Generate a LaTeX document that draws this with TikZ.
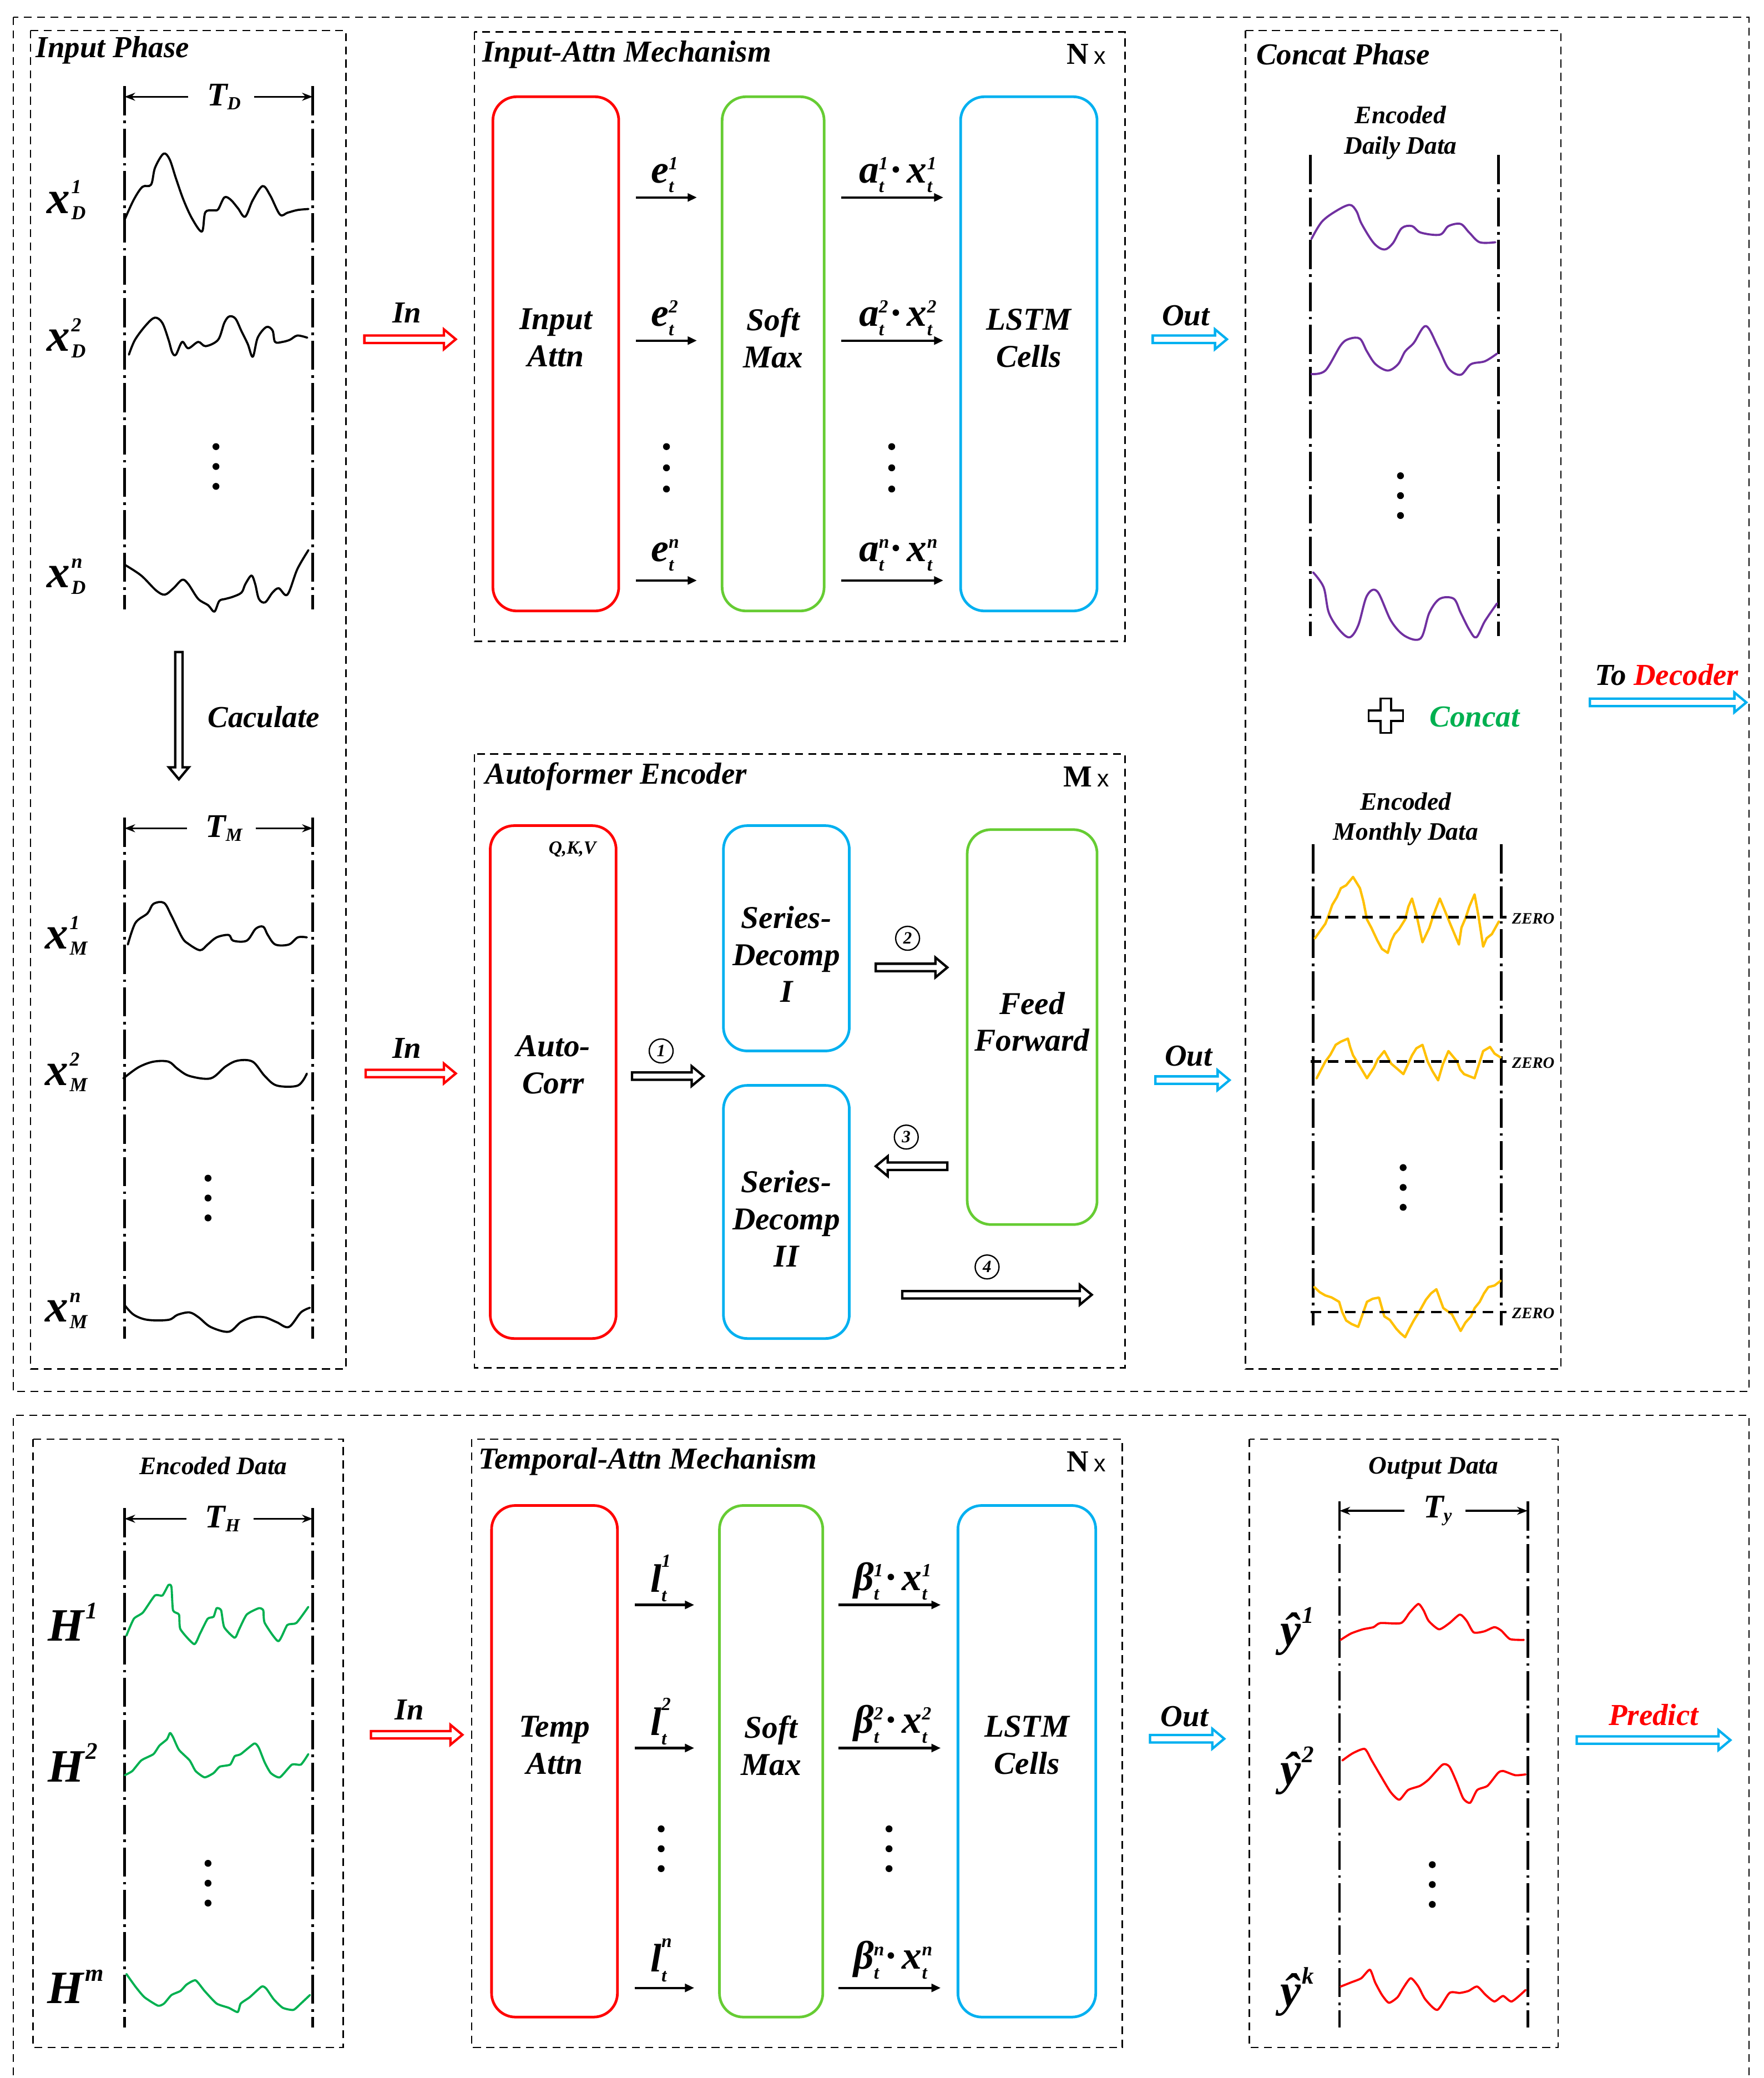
\documentclass[tikz,border=0pt]{standalone}
\usepackage{fontspec}
\setmainfont{Liberation Serif}
\setsansfont{Liberation Sans}
\usetikzlibrary{arrows.meta,positioning,calc}

\definecolor{attnred}{RGB}{255,0,0}
\definecolor{softgreen}{RGB}{102,204,51}
\definecolor{cellblue}{RGB}{0,176,240}
\definecolor{dailypurple}{RGB}{112,48,160}
\definecolor{monthyellow}{RGB}{255,192,0}
\definecolor{hgreen}{RGB}{0,176,80}

\newcommand{\fsz}[2]{\fontsize{#1}{#2}\selectfont}
\newcommand{\bi}{\bfseries\itshape}
\newcommand{\scr}{\fsz{14}{14}}
% x with stacked sup / sub
\newcommand{\serlab}[3]{#1\kern1pt\rlap{\raisebox{.42em}{\fsz{15}{15}#2}}\raisebox{-.14em}{\fsz{15}{15}#3}}
\newcommand{\wlab}[4][.34em]{#2\rlap{\raisebox{#1}{\scr #3}}\raisebox{-.24em}{\scr #4}}
\newcommand{\suplab}[2]{#1\kern1pt\raisebox{.48em}{\fsz{18}{18}#2}}
\newcommand{\winlab}[2]{#1\raisebox{-.12em}{\scr #2}}
% outlined block arrow from #2 to #3
\newcommand{\blockarr}[3]{%
  \draw[blockline=#1] let \p1=(#2), \p2=(#3), \n1={veclen(\x2-\x1,\y2-\y1)},
    \n2={(\x2-\x1)/\n1}, \n3={(\y2-\y1)/\n1} in
    ({\x1-\n3*2.8pt},{\y1+\n2*2.8pt}) -- ({\x2-\n2*9pt-\n3*2.8pt},{\y2-\n3*9pt+\n2*2.8pt})
    -- ({\x2-\n2*9pt-\n3*7.5pt},{\y2-\n3*9pt+\n2*7.5pt}) -- (\p2)
    -- ({\x2-\n2*9pt+\n3*7.5pt},{\y2-\n3*9pt-\n2*7.5pt}) -- ({\x2-\n2*9pt+\n3*2.8pt},{\y2-\n3*9pt-\n2*2.8pt})
    -- ({\x1+\n3*2.8pt},{\y1-\n2*2.8pt}) -- cycle;}

\tikzset{
  phasebox/.style={draw, line width=1.1pt, dash pattern=on 6pt off 4pt},
  ttl/.style={anchor=west, inner sep=0pt, font=\fsz{23}{27}\bi},
  subttl/.style={align=center, inner sep=0pt, font=\fsz{19}{23}\bi},
  rbox/.style={draw=#1, line width=2pt, rounded corners=18pt, inner sep=0pt},
  boxtxt/.style={align=center, inner sep=0pt, font=\fsz{24}{28}\bi},
  window/.style={line width=2pt, dash pattern=on 22pt off 4pt on 2pt off 4pt},
  dimarr/.style={line width=1.4pt, -{Stealth[length=8pt,width=6pt]}},
  dimlab/.style={inner sep=0pt, font=\fsz{25}{25}\bi},
  sig/.style={line width=1.6pt, line join=round, line cap=round},
  flow/.style={line width=1.8pt, -{Triangle[length=7pt,width=6pt]}},
  blockline/.style={draw=#1, line width=1.8pt, line join=miter, fill=white},
  varlab/.style={inner sep=0pt, font=\fsz{35}{35}\bi},
  wtlab/.style={inner sep=0pt, font=\fsz{30}{30}\bi},
  flowlab/.style={inner sep=0pt, font=\fsz{23}{23}\bi},
  stepnum/.style={circle, draw, line width=1pt, inner sep=0pt, minimum size=18pt, font=\fsz{13}{13}\bi},
  zero/.style={line width=2pt, dash pattern=on 8pt off 5pt},
  zerolab/.style={anchor=west, inner sep=0pt, font=\fsz{12}{12}\bi},
  reps/.style={inner sep=0pt, font=\fsz{23}{23}\bfseries},
}

\begin{document}
\begin{tikzpicture}[x=1pt, y=-1pt]
\useasboundingbox (0,0) rectangle (1331,1568);

% outer frames
\draw[phasebox] (10,13) rectangle (1320,1050);
\draw[phasebox] (10,1566) -- (10,1068) -- (1320,1068) -- (1320,1566);

%%%%% input phase
\draw[phasebox] (23,23) rectangle (261,1033);
\node[ttl] at (27,38) {Input Phase};

\coordinate (dl) at (94,65);
\coordinate (dr) at (236,65);
\draw[window] (dl) -- (94,460);
\draw[window] (dr) -- (236,460);
\node[dimlab] (td) at (169,73) {\winlab{T}{D}};
\draw[dimarr] ([xshift=-14pt]td.west) -- (td.west -| dl);
\draw[dimarr] ([xshift=10pt]td.east) -- (td.east -| dr);

\draw[sig] plot[smooth, tension=.55] coordinates {(94.4,165) (101,150.6) (107.5,141) (114,139.4) (117,126.6) (123.4,116) (128,120.2) (132.8,134.6) (138.4,150.6) (145,165) (152.4,174.7) (154.9,160.3) (160.8,158.7) (164.6,158) (169.3,149) (174,150.6) (179.5,157) (185,163.5) (190.8,151) (198.2,140.4) (203.9,147.4) (211.3,161.9) (217,160.5) (224.4,158.5) (232.8,157.7)};
\draw[sig] plot[smooth, tension=.55] coordinates {(97.3,267.6) (101.9,256.4) (110.3,245.2) (116.9,239.7) (122.5,243.6) (127.2,256.4) (130,266) (132.8,267.6) (137.5,258) (142.1,262.8) (149.6,258) (155.2,261.2) (164.6,256.4) (169.3,243.6) (173,238.8) (177.7,240.4) (182.3,250) (187,259.6) (190.8,269.2) (194.5,254.8) (201,246.8) (205.7,249.4) (207.6,258) (213.2,258) (218.8,256.4) (224.4,253.2) (231.9,254.8)};
\draw[sig] plot[smooth, tension=.55] coordinates {(94.4,426.3) (106.6,434.3) (117.8,445.5) (124.4,448.7) (130.9,443.9) (137.5,437.5) (142.1,440.7) (149.6,451.9) (157.1,456.7) (161.8,461.5) (165.5,453.5) (170.2,451.9) (175.8,450.3) (182.3,447.1) (185.2,440.7) (189.8,434.3) (192.6,440.7) (195.4,451.9) (200.1,454.5) (205.7,447.1) (210.4,443.9) (216.9,448.7) (224.4,429.5) (232.8,415.1)};

\node[varlab] (xd1) at (50,151) {\serlab{x}{1}{D}};
\node[varlab] (xd2) at (50,255) {\serlab{x}{2}{D}};
\node[varlab] (xdn) at (50,435) {\serlab{x}{n}{D}};
\foreach \k in {0,1,2} \fill (163,337+15*\k) circle (2.6pt);

\coordinate (calctop) at (135,492);
\coordinate (calcbot) at (135,588);
\blockarr{black}{calctop}{calcbot}
\node[flowlab] at (199,541) {Caculate};

\coordinate (ml) at (94,617);
\coordinate (mr) at (236,617);
\draw[window] (ml) -- (94,1010);
\draw[window] (mr) -- (236,1010);
\node[dimlab] (tm) at (169,625) {\winlab{T}{M}};
\draw[dimarr] ([xshift=-14pt]tm.west) -- (tm.west -| ml);
\draw[dimarr] ([xshift=10pt]tm.east) -- (tm.east -| mr);

\draw[sig] plot[smooth, tension=.55] coordinates {(96.5,712.7) (102.2,696.4) (111.3,689.2) (115.8,682) (123.8,681.3) (129.4,691) (137.4,707.3) (141.9,712) (151,717) (156.7,712.7) (163.5,707.3) (172.6,705.5) (176,709.8) (186.2,709.8) (193,700.8) (198.7,699.3) (202.1,705.5) (207.8,712.7) (218,712.7) (224.8,707.3) (231.6,707.3)};
\draw[sig] plot[smooth, tension=.55] coordinates {(93.1,813.7) (104.4,805.4) (115.8,801.1) (127.2,801.1) (134,806.5) (143,811.9) (159,813.7) (170.3,804.7) (179.4,800.3) (190.7,801.1) (199.8,811.9) (208.9,819.1) (224.8,819.1) (231.6,810.1)};
\draw[sig] plot[smooth, tension=.55] coordinates {(94.2,985) (101,992.1) (111.3,995.9) (127.2,995.9) (134,992.1) (143,990.3) (149.9,994) (159,1001.3) (172.6,1004.9) (181.7,997.7) (190.7,994) (199.8,994) (208.9,997.7) (218,1001.3) (227.1,990.3) (233.9,986.8)};

\node[varlab] (xm1) at (50,706) {\serlab{x}{1}{M}};
\node[varlab] (xm2) at (50,809) {\serlab{x}{2}{M}};
\node[varlab] (xmn) at (50,989) {\serlab{x}{n}{M}};
\foreach \k in {0,1,2} \fill (157,889+15*\k) circle (2.6pt);

% In arrows
\coordinate (in1a) at (275,256);
\coordinate (in1b) at (344,256);
\blockarr{attnred}{in1a}{in1b}
\node[flowlab] at (307,236) {In};
\coordinate (in2a) at (276,810);
\coordinate (in2b) at (344,810);
\blockarr{attnred}{in2a}{in2b}
\node[flowlab] at (307,791) {In};

%%%%% input attention
\draw[phasebox] (358,24) rectangle (849,484);
\node[ttl] at (364,41) {Input-Attn Mechanism};
\node[reps] at (820,41) {N\,{\sffamily\mdseries\fsz{18}{18}x}};
\node[rbox=attnred, minimum width=95, minimum height=388, label={[boxtxt,yshift=12pt]center:{Input\\Attn}}] (ia) at (419.5,267) {};
\node[rbox=softgreen, minimum width=77, minimum height=388, label={[boxtxt,yshift=12pt]center:{Soft\\Max}}] (sm1) at (583.5,267) {};
\node[rbox=cellblue, minimum width=103, minimum height=388, label={[boxtxt,yshift=12pt]center:{LSTM\\Cells}}] (ls1) at (776.5,267) {};
\foreach \yy in {149,257,438} {
  \draw[flow] ([xshift=12pt]ia.east |- 0,\yy) -- ([xshift=-18pt]sm1.west |- 0,\yy);
  \draw[flow] ([xshift=12pt]sm1.east |- 0,\yy) -- ([xshift=-12pt]ls1.west |- 0,\yy);
}
\node[wtlab] at (500,132) {\wlab{e}{1}{t}};
\node[wtlab] at (500,240) {\wlab{e}{2}{t}};
\node[wtlab] at (500,419) {\wlab{e}{n}{t}};
\node[wtlab] at (676,132) {\wlab{a}{1}{t}\,·\,\wlab{x}{1}{t}};
\node[wtlab] at (676,240) {\wlab{a}{2}{t}\,·\,\wlab{x}{2}{t}};
\node[wtlab] at (676,419) {\wlab{a}{n}{t}\,·\,\wlab{x}{n}{t}};
\foreach \k in {0,1,2} {
  \fill (503,337+16*\k) circle (2.6pt);
  \fill (673,337+16*\k) circle (2.6pt);
}

%%%%% autoformer encoder
\draw[phasebox] (358,569) rectangle (849,1032);
\node[ttl] at (366,586) {Autoformer Encoder};
\node[reps] at (820,586) {M\,{\sffamily\mdseries\fsz{18}{18}x}};
\node[rbox=attnred, minimum width=95, minimum height=387, label={[boxtxt,yshift=13pt]center:{Auto-\\Corr}}] (ac) at (417.5,816.5) {};
\node[inner sep=0pt, font=\fsz{14}{14}\bi] at (432,641) {Q,K,V};
\node[rbox=cellblue, minimum width=95, minimum height=170, label={[boxtxt,yshift=-12pt]center:{Series-\\Decomp\\I}}] (sd1) at (593.5,708) {};
\node[rbox=cellblue, minimum width=95, minimum height=191, label={[boxtxt,yshift=-5pt]center:{Series-\\Decomp\\II}}] (sd2) at (593.5,914.5) {};
\node[rbox=softgreen, minimum width=98, minimum height=298, label={[boxtxt,yshift=4pt]center:{Feed\\Forward}}] (ff) at (779,775) {};

\blockarr{black}{[xshift=11pt]ac.east |- 0,812}{[xshift=-14pt]sd1.west |- 0,812}
\node[stepnum] at (499,793) {1};
\blockarr{black}{[xshift=19pt]sd1.east |- 0,730}{[xshift=-14pt]ff.west |- 0,730}
\node[stepnum] at (685,708) {2};
\blockarr{black}{[xshift=-14pt]ff.west |- 0,880}{[xshift=19pt]sd2.east |- 0,880}
\node[stepnum] at (684,858) {3};
\blockarr{black}{[xshift=39pt]sd2.east |- 0,977}{[xshift=-5pt]ff.east |- 0,977}
\node[stepnum] at (745,956) {4};

% Out arrows
\coordinate (out1a) at (870,256);
\coordinate (out1b) at (926,256);
\blockarr{cellblue}{out1a}{out1b}
\node[flowlab] at (895,238) {Out};
\coordinate (out2a) at (872,815);
\coordinate (out2b) at (928,815);
\blockarr{cellblue}{out2a}{out2b}
\node[flowlab] at (897,797) {Out};

%%%%% concat phase
\draw[phasebox] (940,23) rectangle (1178,1033);
\node[ttl] at (948,41) {Concat Phase};
\node[subttl] at (1057,100) {Encoded\\Daily Data};
\draw[window] (989,117) -- (989,480);
\draw[window] (1131,117) -- (1131,480);
\begin{scope}[dailypurple]
\draw[sig] plot[smooth, tension=.55] coordinates {(989.8,180.3) (997.6,167.4) (1008.1,159.4) (1018.6,154.6) (1023.8,159.4) (1027.7,169) (1036.9,183.5) (1044.8,188.3) (1051.3,183.5) (1057.9,172.2) (1065.7,170.6) (1072.3,175.5) (1086.7,177.1) (1093.2,170.6) (1102.4,169) (1108.9,175.5) (1116.8,182.8) (1128.6,182.8)};
\draw[sig] plot[smooth, tension=.55] coordinates {(989.8,282.2) (1000.3,279.6) (1012,260.4) (1018.6,255.6) (1026.4,255.6) (1031.7,265.2) (1038.2,274.8) (1047.4,279.6) (1055.2,274.8) (1060.5,265.2) (1067,258.8) (1076.2,246) (1085.4,262) (1093.2,278) (1102.4,282.8) (1110.2,274.8) (1120.7,272.6) (1129.9,266.8)};
\draw[sig] plot[smooth, tension=.55] coordinates {(991.1,431.9) (999,443.1) (1002.9,462.3) (1010.7,475.1) (1018.6,480.9) (1025.1,471.9) (1031.7,449.5) (1039.5,446.3) (1050,468.7) (1060.5,480) (1072.3,481.6) (1078.8,462.3) (1086.7,451.8) (1097.2,451.8) (1102.4,462.3) (1108.9,475.1) (1114.2,480.9) (1120.7,468.7) (1129.9,455.3)};
\end{scope}
\foreach \k in {0,1,2} \fill (1057,359+15*\k) circle (2.6pt);

\draw[line width=1.5pt, shift={(1046,540)}] (-4,-13) -- (4,-13) -- (4,-4) -- (13,-4) -- (13,4) -- (4,4) -- (4,13) -- (-4,13) -- (-4,4) -- (-13,4) -- (-13,-4) -- (-4,-4) -- cycle;
\node[flowlab, text=hgreen] at (1113,541) {Concat};

\node[subttl] at (1061,618) {Encoded\\Monthly Data};
\draw[window] (991,637) -- (991,1000);
\draw[window] (1133,637) -- (1133,1000);
\begin{scope}[monthyellow]
\draw[sig, line width=1.8pt] plot coordinates {(992.4,708) (996,703) (1000.3,697) (1003,690) (1005.5,682.8) (1009,677) (1012,670.2) (1016,668) (1021.2,661.7) (1026.4,670.2) (1029,680) (1031.7,693.8) (1035,700) (1039.5,709.6) (1043,716) (1047.4,719) (1050,710) (1052.6,704.8) (1056,701) (1060.5,693.8) (1063,684) (1065.7,678) (1069,690) (1073.6,711) (1078.8,700.1) (1082,690) (1086.7,678) (1090,686) (1094.5,697) (1101.1,712.7) (1103,700) (1106.3,692.2) (1109,684) (1112.9,674.9) (1116,692) (1119.4,714.3) (1122,708) (1126,704.8) (1131.2,695.4)};
\draw[sig, line width=1.8pt] plot coordinates {(993.7,813.6) (1000.3,801) (1004,796) (1008.1,788.4) (1012,786) (1017.3,783.7) (1019,790) (1021.2,796.3) (1026,804) (1031.7,813.6) (1036.9,805.7) (1040,799) (1044.8,793.1) (1050,802.6) (1054,806) (1059.2,810.5) (1065.7,796.3) (1069,791) (1073.6,788.4) (1077.5,801) (1081,808) (1085.4,815.2) (1089,803) (1093.2,793.1) (1099.8,801) (1102,807) (1105,810.5) (1112.9,813.6) (1119.4,793.1) (1124.6,790) (1128,795) (1132.5,797.9)};
\draw[sig, line width=1.8pt] plot coordinates {(992,971.2) (996,975) (1000.3,977.5) (1005,979) (1010.7,982.3) (1013,990) (1016,996.4) (1020,999) (1025.1,1001.2) (1031.7,982.3) (1036,980) (1040.8,979.1) (1044.8,993.3) (1049,996) (1053.9,1002.7) (1057,1006) (1060.5,1009) (1064,1002) (1067,996.4) (1071,990) (1076.2,980.7) (1080,976) (1084.1,972.8) (1089.3,987) (1095.8,991.7) (1102.4,1004.3) (1106,998) (1110.2,993.3) (1113,987) (1116.8,982.3) (1120,976) (1123.3,971.2) (1128,970) (1132.5,966.5)};
\end{scope}
\foreach \zy in {692,801,990} {
  \draw[zero] (989,\zy) -- (1137,\zy);
  \node[zerolab] at (1141,\zy+1) {ZERO};
}
\foreach \k in {0,1,2} \fill (1059,881+15*\k) circle (2.6pt);

% to decoder
\coordinate (deca) at (1200,530);
\coordinate (decb) at (1318,530);
\blockarr{cellblue}{deca}{decb}
\node[flowlab] at (1258,509) {To \textcolor{attnred}{Decoder}};

%%%%% encoded data
\draw[phasebox] (25,1086) rectangle (259,1545);
\node[subttl] at (161,1106) {Encoded Data};
\coordinate (hl) at (94,1138);
\coordinate (hr) at (236,1138);
\draw[window] (hl) -- (94,1530);
\draw[window] (hr) -- (236,1530);
\node[dimlab] (th) at (168,1146) {\winlab{T}{H}};
\draw[dimarr] ([xshift=-14pt]th.west) -- (th.west -| hl);
\draw[dimarr] ([xshift=10pt]th.east) -- (th.east -| hr);
\begin{scope}[hgreen]
\draw[sig] plot[smooth, tension=.35] coordinates {(95.4,1234.2) (101,1221.5) (107.9,1216.7) (116.9,1203.9) (122.6,1203.9) (127.2,1195.9) (129.4,1197.5) (130.6,1215.1) (135.1,1218.3) (136.2,1229.4) (146.5,1240.6) (151,1232.6) (156.7,1221.5) (161.2,1219.9) (163.5,1213.5) (166.9,1215.1) (169.2,1227.8) (177.1,1235.8) (180.5,1229.4) (186.2,1218.3) (195.3,1213.5) (198.7,1215.1) (199.8,1224.6) (210,1238.4) (216.8,1226.2) (223.7,1224.6) (232.7,1212.5)};
\draw[sig] plot[smooth, tension=.35] coordinates {(94.2,1339.5) (99.9,1336.3) (106.7,1328.3) (115.8,1323.6) (120.3,1317.2) (126,1312.4) (128.3,1307.6) (130.6,1310.8) (135.1,1320.4) (143.1,1328.3) (147.6,1336.3) (154.4,1341.1) (161.2,1337.9) (165.8,1333.1) (173.7,1331.5) (177.1,1325.2) (181.7,1323.6) (191.9,1315.6) (195.3,1318.8) (199.8,1329.9) (204.4,1337.9) (211.2,1341.1) (220.3,1331.5) (227.1,1331.5) (232.7,1323.6)};
\draw[sig] plot[smooth, tension=.35] coordinates {(95.4,1489.5) (102.2,1499) (109,1507) (119.2,1513.4) (123.8,1511.8) (129.4,1505.4) (136.2,1502.3) (140.8,1497.5) (147.6,1494.3) (154.4,1502.3) (163.5,1511.8) (172.6,1515) (179.4,1518.2) (181.7,1511.8) (188.5,1507) (197.5,1499) (201,1500.6) (206.6,1508.6) (213.4,1515) (221.4,1516.6) (227.1,1511.8) (233.9,1505.4)};
\end{scope}
\node[varlab] (h1) at (55,1224) {\suplab{H}{1}};
\node[varlab] (h2) at (55,1330) {\suplab{H}{2}};
\node[varlab] (hm) at (57,1499) {\suplab{H}{m}};
\foreach \k in {0,1,2} \fill (157,1406+15*\k) circle (2.6pt);

\coordinate (in3a) at (280,1309);
\coordinate (in3b) at (349,1309);
\blockarr{attnred}{in3a}{in3b}
\node[flowlab] at (309,1290) {In};

%%%%% temporal attention
\draw[phasebox] (356,1086) rectangle (847,1545);
\node[ttl] at (361,1103) {Temporal-Attn Mechanism};
\node[reps] at (820,1103) {N\,{\sffamily\mdseries\fsz{18}{18}x}};
\node[rbox=attnred, minimum width=95, minimum height=386, label={[boxtxt,yshift=12pt]center:{Temp\\Attn}}] (ta) at (418.5,1329) {};
\node[rbox=softgreen, minimum width=78, minimum height=386, label={[boxtxt,yshift=12pt]center:{Soft\\Max}}] (sm2) at (582,1329) {};
\node[rbox=cellblue, minimum width=104, minimum height=386, label={[boxtxt,yshift=12pt]center:{LSTM\\Cells}}] (ls2) at (775,1329) {};
\foreach \yy in {1211,1319,1500} {
  \draw[flow] ([xshift=12pt]ta.east |- 0,\yy) -- ([xshift=-18pt]sm2.west |- 0,\yy);
  \draw[flow] ([xshift=11pt]sm2.east |- 0,\yy) -- ([xshift=-12pt]ls2.west |- 0,\yy);
}
\node[wtlab] at (497,1191) {\wlab[.62em]{l}{1}{t}};
\node[wtlab] at (497,1299) {\wlab[.62em]{l}{2}{t}};
\node[wtlab] at (497,1479) {\wlab[.62em]{l}{n}{t}};
\node[wtlab] at (672,1193) {\wlab{β}{1}{t}\,·\,\wlab{x}{1}{t}};
\node[wtlab] at (672,1301) {\wlab{β}{2}{t}\,·\,\wlab{x}{2}{t}};
\node[wtlab] at (672,1479) {\wlab{β}{n}{t}\,·\,\wlab{x}{n}{t}};
\foreach \k in {0,1,2} {
  \fill (499,1380+15*\k) circle (2.6pt);
  \fill (671,1380+15*\k) circle (2.6pt);
}

\coordinate (out3a) at (868,1312);
\coordinate (out3b) at (924,1312);
\blockarr{cellblue}{out3a}{out3b}
\node[flowlab] at (894,1295) {Out};

%%%%% output data
\draw[phasebox] (943,1086) rectangle (1176,1545);
\node[subttl] at (1082,1108) {Output Data};
\coordinate (yl) at (1011,1133);
\coordinate (yr) at (1153,1133);
\draw[window] (yl) -- (1011,1530);
\draw[window] (yr) -- (1153,1530);
\node[dimlab] (ty) at (1085,1140) {\winlab{T}{y}};
\draw[dimarr] ([xshift=-14pt]ty.west) -- (ty.west -| yl);
\draw[dimarr] ([xshift=10pt]ty.east) -- (ty.east -| yr);
\begin{scope}[red]
\draw[sig] plot[smooth, tension=.4] coordinates {(1011.8,1237.4) (1019.6,1232.6) (1028.7,1229.4) (1036.6,1227.8) (1041.8,1224.7) (1057.4,1224.7) (1064,1216.7) (1070.5,1210.3) (1074.4,1215.1) (1078.3,1223.1) (1086.1,1229.4) (1094,1224.7) (1101.8,1218.3) (1107,1223.1) (1112.2,1231.7) (1120.1,1231) (1127.9,1227.8) (1133.1,1230.4) (1139.7,1236.8) (1150.1,1237.4)};
\draw[sig] plot[smooth, tension=.4] coordinates {(1013.1,1328.4) (1020.9,1323) (1030,1319.7) (1035.3,1328.4) (1041.8,1339.5) (1049.6,1352.3) (1056.1,1358) (1062.7,1350.7) (1071.8,1347.5) (1078.3,1342.7) (1088.8,1331.5) (1094,1333.1) (1099.2,1344.3) (1104.4,1357.1) (1109.6,1360.3) (1114.9,1350.7) (1122.7,1347.5) (1130.5,1337.9) (1134.4,1336.3) (1143.6,1339.5) (1151.4,1338.9)};
\draw[sig] plot[smooth, tension=.4] coordinates {(1011.8,1499) (1019.6,1495.9) (1027.4,1492.7) (1033.9,1486.3) (1037.9,1495.9) (1043.1,1505.4) (1048.3,1511.2) (1054.8,1507) (1058.7,1500.6) (1064.7,1492.7) (1070.5,1499) (1075.7,1508.6) (1084.8,1516.6) (1094,1503.8) (1101.8,1503.8) (1108.3,1502.3) (1114.9,1499) (1121.4,1505.4) (1127.9,1510.2) (1134.4,1506.1) (1141,1510.2) (1151.4,1501.6)};
\end{scope}
\node[varlab] (y1) at (979,1231) {\suplab{ŷ}{1}};
\node[varlab] (y2) at (979,1336) {\suplab{ŷ}{2}};
\node[varlab] (yk) at (979,1503) {\suplab{ŷ}{k}};
\foreach \k in {0,1,2} \fill (1081,1407+15*\k) circle (2.6pt);

% predict
\coordinate (preda) at (1190,1313);
\coordinate (predb) at (1306,1313);
\blockarr{cellblue}{preda}{predb}
\node[flowlab, text=attnred] at (1248,1294) {Predict};
\end{tikzpicture}
\end{document}
